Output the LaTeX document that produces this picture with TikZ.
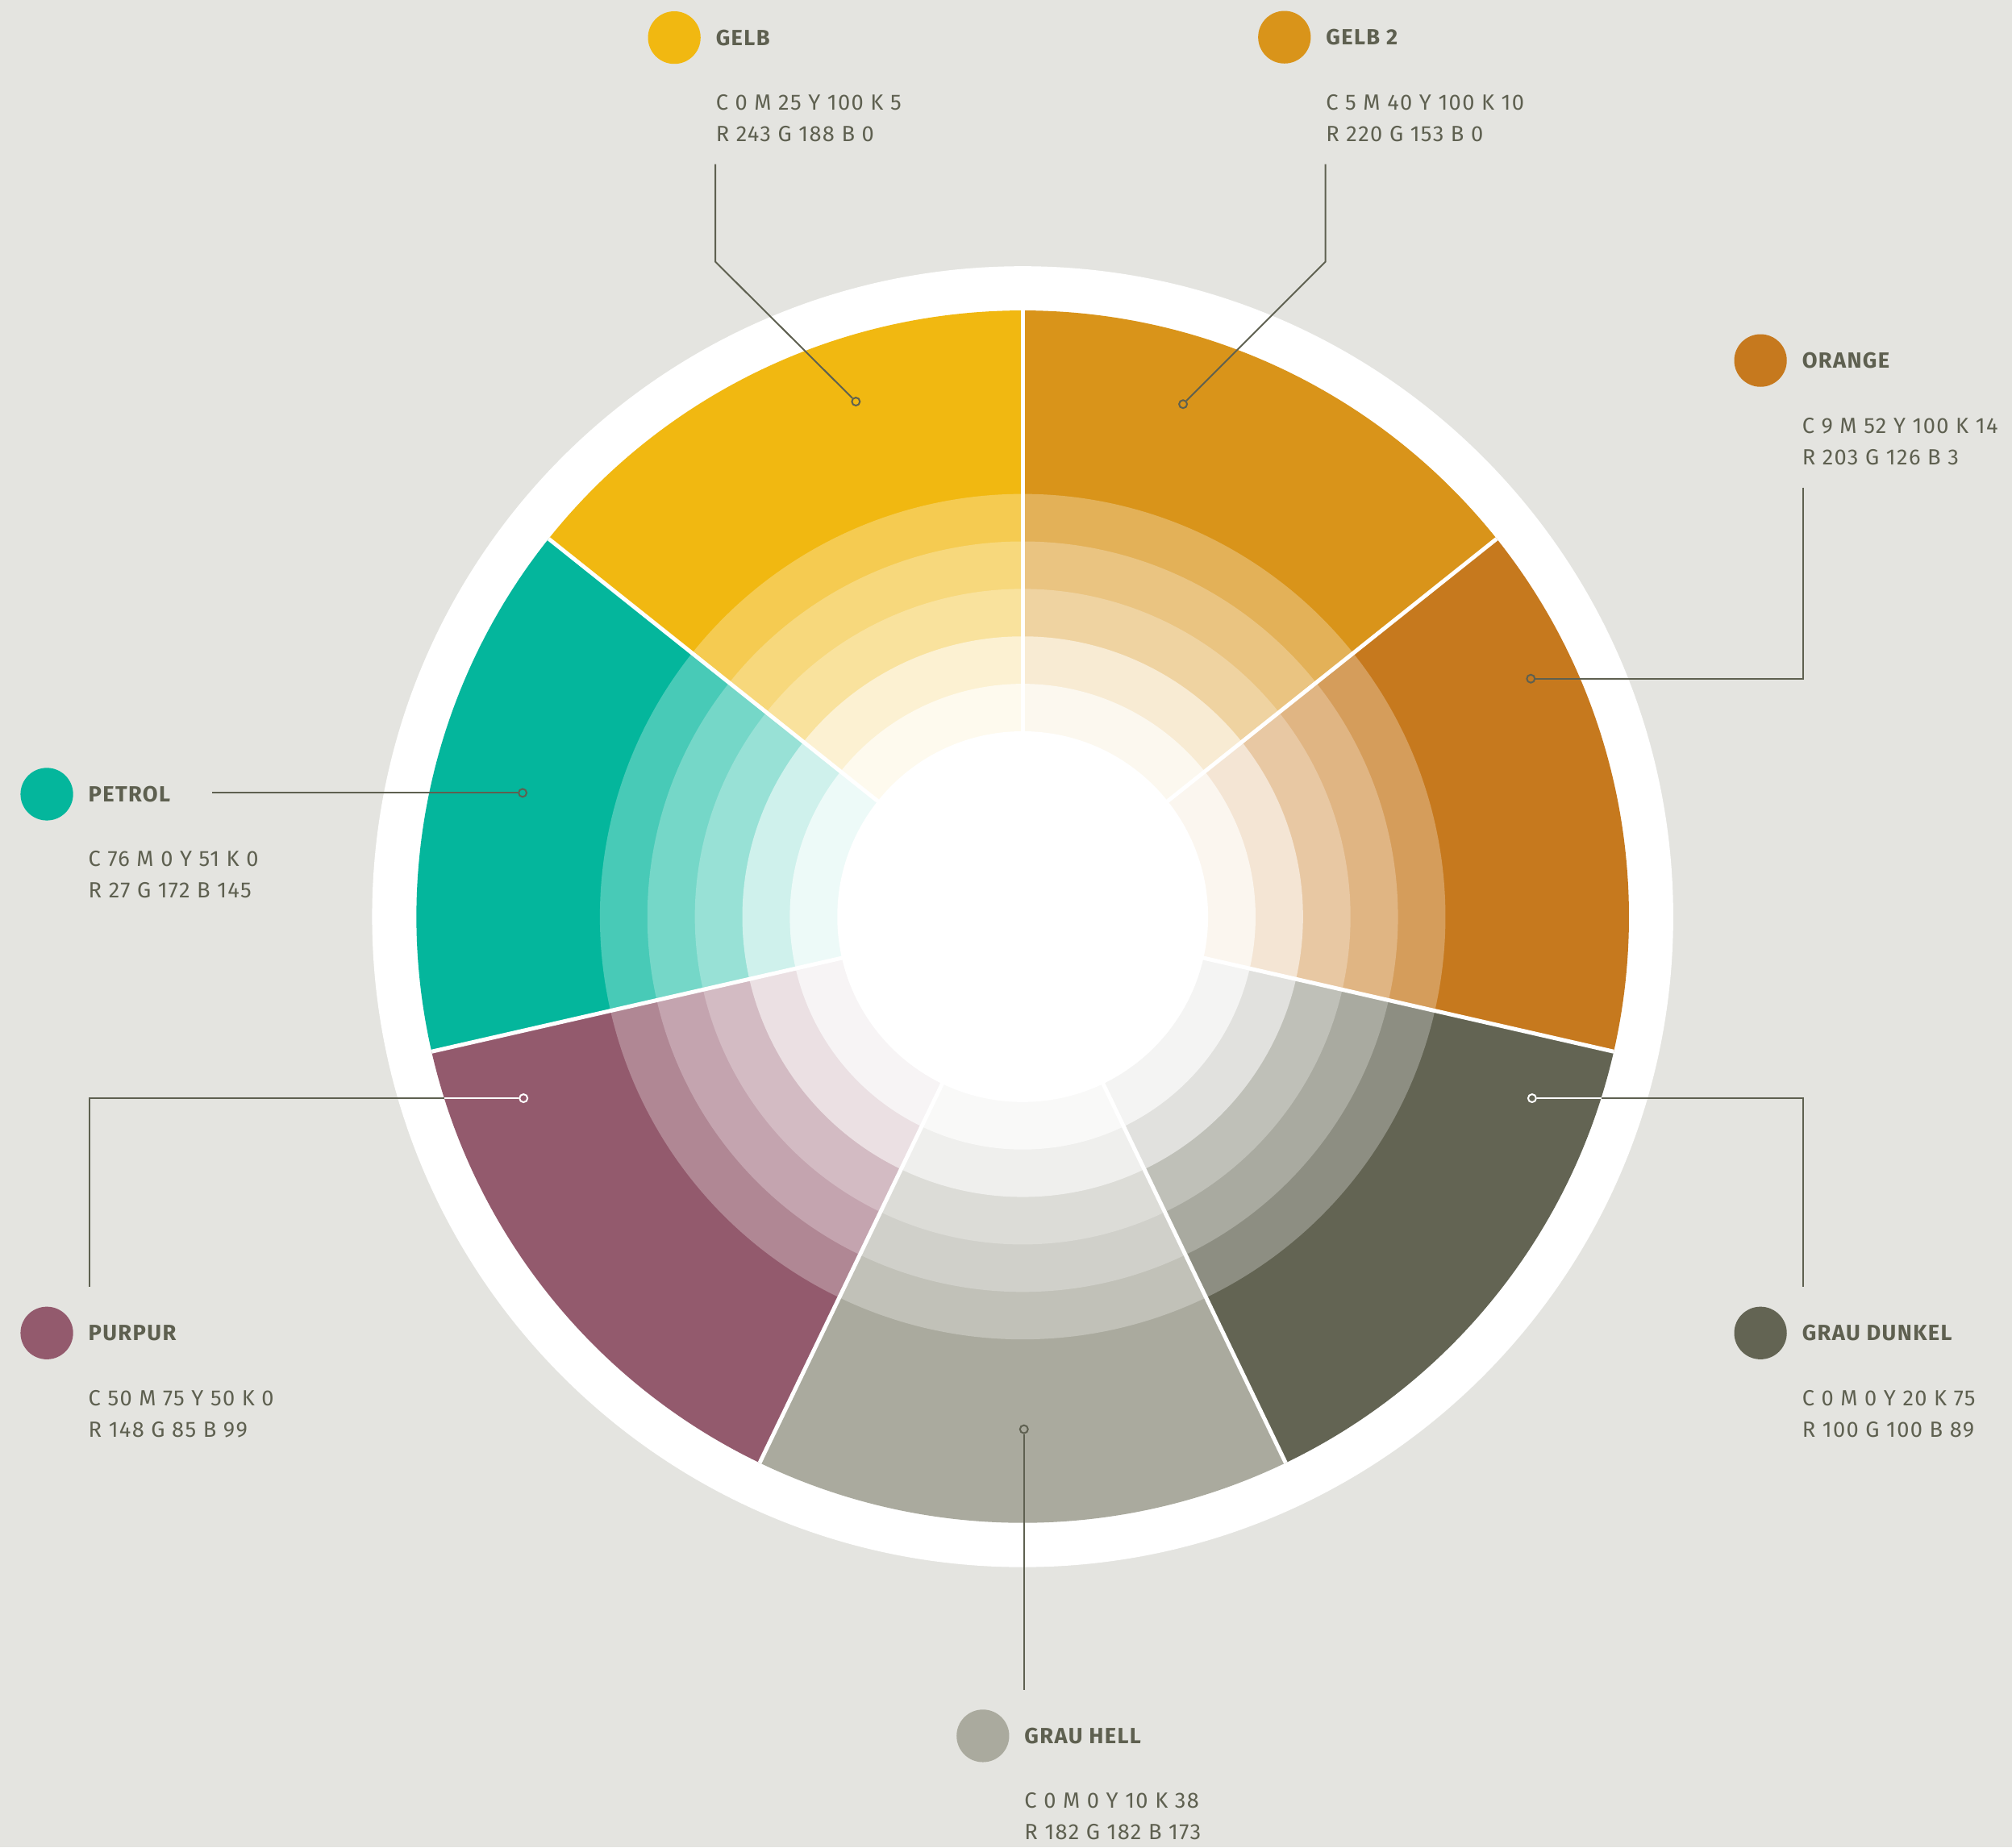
\documentclass[tikz,border=0pt]{standalone}
\usepackage{fontspec}
\setmainfont{Fira Sans}[LetterSpace=5]
\definecolor{paper}{HTML}{E4E4E0}
\definecolor{ink}{HTML}{5E6050}
\definecolor{gelb}{HTML}{F1B811}
\definecolor{gelbzwei}{HTML}{D9941A}
\definecolor{orange}{HTML}{C6791E}
\definecolor{petrol}{HTML}{04B69C}
\definecolor{purpur}{HTML}{935A6D}
\definecolor{grauhell}{HTML}{AAAA9E}
\definecolor{graudunkel}{HTML}{636453}
\tikzset{
  swatch/.style={circle, inner sep=0pt, minimum size=6.56mm},
  colname/.style={anchor=west, inner sep=0pt, text=ink, font=\fontsize{7.8}{8}\selectfont\bfseries},
  values/.style={anchor=base west, inner sep=0pt, align=left, text=ink, font=\fontsize{7.8}{11.15}\selectfont},
  tip/.style={circle, draw=ink, line width=0.2mm, inner sep=0pt, minimum size=1mm},
  leader/.style={ink, line width=0.2mm},
  sep/.style={white, line width=0.5mm}
}
\begin{document}
\begin{tikzpicture}[x=0.16mm, y=0.16mm]
\useasboundingbox (-797,-725.5) rectangle (771,714.5);
\fill[paper] (-797,-725.5) rectangle (771,714.5);
\fill[white] (0,0) circle [radius=507];
% wheel: seven segments, each fading to white towards the middle
\foreach \a/\c in {90/gelb, 141.43/petrol, 192.86/purpur, 244.29/grauhell, 295.71/graudunkel, 347.14/orange, 398.57/gelbzwei}
  \foreach \r/\t in {472.5/100, 329.5/73, 292.5/55, 255.5/41, 218.5/19, 181.5/7}
    \fill[\c!\t!white] (0,0) -- (\a:\r) arc [start angle=\a, delta angle=51.43, radius=\r] -- cycle;
\foreach \a in {90, 141.43, 192.86, 244.29, 295.71, 347.14, 398.57}
  \draw[sep] (0,0) -- (\a:472.5);
\fill[white] (0,0) circle [radius=144.5];
% labels (values anchored on the baseline of their last line)
\node[swatch, fill=gelb] (gelb) at (-271.5,685.2) {};
\node[colname] (gelb-name) at (-239.5,685.2) {GELB};
\node[values] (gelb-values) at (-239.5,604.2) {C 0 M 25 Y 100 K 5\\R 243 G 188 B 0};
\node[swatch, fill=gelbzwei] (gelbzwei) at (204,685.5) {};
\node[colname] (gelbzwei-name) at (236,685.5) {GELB 2};
\node[values] (gelbzwei-values) at (236,604.5) {C 5 M 40 Y 100 K 10\\R 220 G 153 B 0};
\node[swatch, fill=orange] (orange) at (575,433.5) {};
\node[colname] (orange-name) at (607,433.5) {ORANGE};
\node[values] (orange-values) at (607,352.5) {C 9 M 52 Y 100 K 14\\R 203 G 126 B 3};
\node[swatch, fill=petrol] (petrol) at (-760.5,95.5) {};
\node[colname] (petrol-name) at (-728.5,95.5) {PETROL};
\node[values] (petrol-values) at (-728.5,14.5) {C 76 M 0 Y 51 K 0\\R 27 G 172 B 145};
\node[swatch, fill=purpur] (purpur) at (-760.5,-324.5) {};
\node[colname] (purpur-name) at (-728.5,-324.5) {PURPUR};
\node[values] (purpur-values) at (-728.5,-405.5) {C 50 M 75 Y 50 K 0\\R 148 G 85 B 99};
\node[swatch, fill=graudunkel] (graudunkel) at (575,-324.5) {};
\node[colname] (graudunkel-name) at (607,-324.5) {GRAU DUNKEL};
\node[values] (graudunkel-values) at (607,-405.5) {C 0 M 0 Y 20 K 75\\R 100 G 100 B 89};
\node[swatch, fill=grauhell] (grauhell) at (-31,-638.5) {};
\node[colname] (grauhell-name) at (1,-638.5) {GRAU HELL};
\node[values] (grauhell-values) at (1,-719.5) {C 0 M 0 Y 10 K 38\\R 182 G 182 B 173};
% leaders
\coordinate (gelb-a) at (-239.5,586.5);
\coordinate (gelb-b) at (-239.5,510.5);
\node[tip] (gelb-tip) at (-130,401.5) {};
\draw[leader] (gelb-a) -- (gelb-b) -- (gelb-tip);
\coordinate (gelbzwei-a) at (236,586.5);
\coordinate (gelbzwei-b) at (236,510.5);
\node[tip] (gelbzwei-tip) at (125,399.5) {};
\draw[leader] (gelbzwei-a) -- (gelbzwei-b) -- (gelbzwei-tip);
\coordinate (orange-a) at (608,334.5);
\coordinate (orange-b) at (608,185.5);
\node[tip] (orange-tip) at (396,185.5) {};
\draw[leader] (orange-a) -- (orange-b) -- (orange-tip);
\coordinate (petrol-a) at (-631.5,96.5);
\node[tip] (petrol-tip) at (-389.7,96.5) {};
\draw[leader] (petrol-a) -- (petrol-tip);
\coordinate (purpur-a) at (-727,-288.5);
\coordinate (purpur-b) at (-727,-141.5);
\coordinate (purpur-edge) at (-450.8,-141.5);
\node[tip, draw=white] (purpur-tip) at (-389,-141.5) {};
\draw[leader] (purpur-a) -- (purpur-b) -- (purpur-edge);
\draw[leader, white] (purpur-edge) -- (purpur-tip);
\coordinate (graudunkel-a) at (608,-288.5);
\coordinate (graudunkel-b) at (608,-141.5);
\coordinate (graudunkel-edge) at (450.8,-141.5);
\node[tip, draw=white] (graudunkel-tip) at (397,-141.5) {};
\draw[leader] (graudunkel-a) -- (graudunkel-b) -- (graudunkel-edge);
\draw[leader, white] (graudunkel-edge) -- (graudunkel-tip);
\coordinate (grauhell-a) at (1,-602.5);
\node[tip] (grauhell-tip) at (1,-399.5) {};
\draw[leader] (grauhell-a) -- (grauhell-tip);
\end{tikzpicture}
\end{document}
